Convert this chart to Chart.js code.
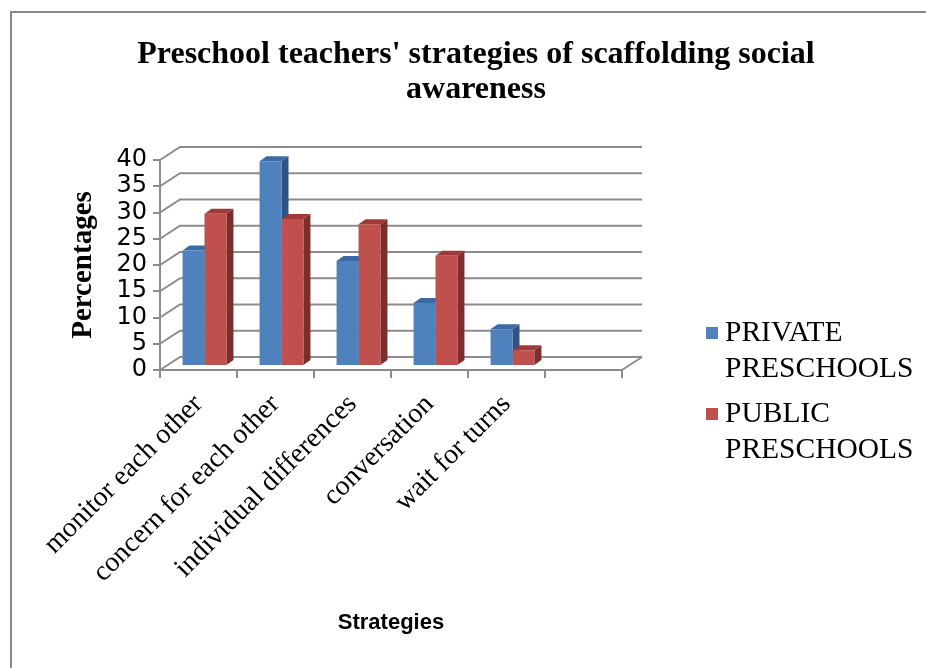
<!DOCTYPE html>
<html><head><meta charset="utf-8">
<script src="https://cdn.jsdelivr.net/npm/chart.js@4.4.1/dist/chart.umd.min.js"></script>
<style>html,body{margin:0;padding:0;background:#fff;overflow:hidden}</style>
</head><body>
<canvas id="c" width="926" height="668"></canvas>
<script>
// ---- data ----
const categories = ['monitor each other', 'concern for each other', 'individual differences', 'conversation', 'wait for turns', ''];
const privateValues = [22, 39, 20, 12, 7, null];
const publicValues = [29, 28, 27, 21, 3, null];
const seriesNames = ['PRIVATE PRESCHOOLS', 'PUBLIC PRESCHOOLS'];
const titleLines = ["Preschool teachers' strategies of scaffolding social", 'awareness'];
const yAxisTitle = 'Percentages';
const xAxisTitle = 'Strategies';
const yMin = 0, yMax = 40, yStep = 5;

// ---- styling ----
const SERIF = '"Liberation Serif", "Times New Roman", serif';
const SANS = '"DejaVu Sans", sans-serif';
const GRID = '#8c8c8c';
const FRONT = ['#4F81BD', '#C0504D'];
const TOP = ['#3C6AA5', '#9E3B38'];
const SIDE = ['#2E5283', '#7D2E2C'];
const WALL = {dx: 20, dy: -13};
const SHIFT = {dx: 6, dy: -4};
const BAR = {dx: 7, dy: -5};

const threeD = {
  id: 'threeD',
  beforeDraw(chart) {
    const ctx = chart.ctx;
    ctx.save();
    ctx.strokeStyle = '#888888';
    ctx.lineWidth = 2;
    ctx.beginPath();
    ctx.moveTo(11, 668); ctx.lineTo(11, 12); ctx.lineTo(926, 12);
    ctx.stroke();
    ctx.restore();
  },
  beforeDatasetsDraw(chart) {
    const {ctx, chartArea: a, scales: {x, y}} = chart;
    ctx.save();
    ctx.strokeStyle = GRID;
    ctx.lineWidth = 2;
    y.ticks.forEach(t => {
      const py = y.getPixelForValue(t.value);
      ctx.beginPath();
      ctx.moveTo(a.left, py);
      ctx.lineTo(a.left + WALL.dx, py + WALL.dy);
      ctx.lineTo(a.right + WALL.dx, py + WALL.dy);
      ctx.stroke();
    });
    const p0 = y.getPixelForValue(0);
    ctx.beginPath();
    ctx.moveTo(a.right, p0);
    ctx.lineTo(a.right + WALL.dx, p0 + WALL.dy);
    ctx.stroke();
    // side and top faces
    const n = categories.length;
    for (let i = 0; i < n; i++) {
      chart.data.datasets.forEach((ds, d) => {
        if (ds.data[i] == null) return;
        const el = chart.getDatasetMeta(d).data[i];
        if (!el) return;
        const p = el.getProps(['x', 'y', 'base', 'width'], true);
        const L = p.x - p.width / 2 + SHIFT.dx, R = p.x + p.width / 2 + SHIFT.dx;
        const T = p.y + SHIFT.dy, B = p.base + SHIFT.dy;
        ctx.fillStyle = SIDE[d];
        ctx.beginPath();
        ctx.moveTo(R, T); ctx.lineTo(R + BAR.dx, T + BAR.dy);
        ctx.lineTo(R + BAR.dx, B + BAR.dy); ctx.lineTo(R, B); ctx.closePath();
        ctx.fill();
        ctx.fillStyle = TOP[d];
        ctx.beginPath();
        ctx.moveTo(L, T); ctx.lineTo(R, T);
        ctx.lineTo(R + BAR.dx, T + BAR.dy); ctx.lineTo(L + BAR.dx, T + BAR.dy); ctx.closePath();
        ctx.fill();
      });
    }
    ctx.restore();
    ctx.save();
    ctx.translate(SHIFT.dx, SHIFT.dy);
  },
  afterDatasetsDraw(chart) {
    chart.ctx.restore();
  },
  afterDraw(chart) {
    const ctx = chart.ctx;
    ctx.save();
    ctx.font = '29.5px ' + SERIF;
    ctx.textBaseline = 'middle';
    ctx.textAlign = 'left';
    const rows = [333, 414];
    chart.data.datasets.forEach((ds, d) => {
      const cy = rows[d];
      ctx.fillStyle = FRONT[d];
      ctx.fillRect(706, cy - 6, 12, 12);
      ctx.fillStyle = '#000';
      const words = ds.label.split(' ');
      words.forEach((w, k) => ctx.fillText(w, 725, cy + k * 36));
    });
    ctx.restore();
  }
};

new Chart(document.getElementById('c'), {
  type: 'bar',
  data: {
    labels: categories,
    datasets: [
      {label: seriesNames[0], data: privateValues, backgroundColor: FRONT[0], borderWidth: 0},
      {label: seriesNames[1], data: publicValues, backgroundColor: FRONT[1], borderWidth: 0}
    ]
  },
  options: {
    responsive: false,
    devicePixelRatio: 1,
    animation: false,
    events: [],
    layout: {padding: {left: 62, right: 36, top: 0, bottom: 28}},
    datasets: {bar: {categoryPercentage: 0.57, barPercentage: 1}},
    plugins: {
      legend: {display: false},
      tooltip: {enabled: false},
      title: {
        display: true,
        text: titleLines,
        color: '#000',
        font: {family: SERIF, size: 32, weight: 'bold', lineHeight: 1.1},
        padding: {top: 37, bottom: 52.6}
      }
    },
    scales: {
      x: {
        grid: {display: true, drawOnChartArea: false, tickLength: 8, color: GRID, lineWidth: 2},
        border: {display: true, color: GRID, width: 2},
        ticks: {autoSkip: false, minRotation: 45, maxRotation: 45, padding: 10, color: '#000',
                font: {family: SERIF, size: 28}},
        title: {display: true, text: xAxisTitle, color: '#000', padding: 4,
                font: {family: '"Liberation Sans", Arial, sans-serif', size: 22, weight: 'bold'}},
        afterFit(s) { s.height = 270; }
      },
      y: {
        min: yMin, max: yMax,
        grid: {display: true, drawOnChartArea: false, tickLength: 7, color: GRID, lineWidth: 2},
        border: {display: true, color: GRID, width: 2},
        ticks: {autoSkip: false, stepSize: yStep, padding: 6, color: '#000', font: {family: SANS, size: 24}},
        title: {display: true, text: yAxisTitle, color: '#000', padding: 4,
                font: {family: SERIF, size: 29, weight: 'bold'}},
        afterFit(s) { s.width = 98; }
      },
      legendSpace: {
        type: 'linear', position: 'right', display: true,
        grid: {display: false}, border: {display: false}, ticks: {display: false},
        afterFit(s) { s.width = 268; }
      }
    }
  },
  plugins: [threeD]
});
</script>
</body></html>
